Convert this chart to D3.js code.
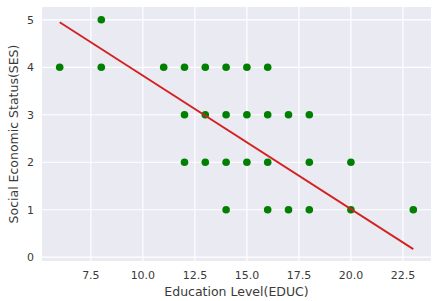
<!DOCTYPE html>
<html>
<head>
<meta charset="utf-8">
<script src="https://cdn.jsdelivr.net/npm/d3@7"></script>
<style>
	body { margin: 0; background: #fff; }
	text { font-family: "DejaVu Sans", sans-serif; fill: #3a3a3a; }
</style>
</head>
<body>
<svg></svg>
<script>
	// EDUC / SES pairs
	var educ = [8, 6, 8, 11, 12, 13, 14, 15, 16, 12, 13, 14, 15, 16, 17, 18,
		12, 13, 14, 15, 16, 18, 20, 14, 16, 17, 18, 20, 23];
	var ses = [5, 4, 4, 4, 4, 4, 4, 4, 4, 3, 3, 3, 3, 3, 3, 3,
		2, 2, 2, 2, 2, 2, 2, 1, 1, 1, 1, 1, 1];
	// fitted line end points
	var fitX = [6, 23];
	var fitY = [4.95, 0.17];
	var xTicks = [7.5, 10.0, 12.5, 15.0, 17.5, 20.0, 22.5];
	var yTicks = [0, 1, 2, 3, 4, 5];

	var width = 440, height = 301;
	var margins = { left: 42, right: 9, top: 7, bottom: 40 };

	var svg = d3.select("svg")
		.attr("width", width)
		.attr("height", height);

	var x = d3.scaleLinear()
		.domain([5.15, 23.85])
		.range([margins.left, width - margins.right]);
	var y = d3.scaleLinear()
		.domain([-0.08, 5.27])
		.range([height - margins.bottom, margins.top]);

	svg.append("rect")
		.attr("x", margins.left)
		.attr("y", margins.top)
		.attr("width", width - margins.left - margins.right)
		.attr("height", height - margins.top - margins.bottom)
		.attr("fill", "#eaeaf2");

	// grid
	svg.append("g").selectAll("line")
		.data(xTicks)
		.enter().append("line")
		.attr("x1", d => x(d)).attr("x2", d => x(d))
		.attr("y1", margins.top).attr("y2", height - margins.bottom)
		.attr("stroke", "#fff").attr("stroke-width", 1.2);
	svg.append("g").selectAll("line")
		.data(yTicks)
		.enter().append("line")
		.attr("y1", d => y(d)).attr("y2", d => y(d))
		.attr("x1", margins.left).attr("x2", width - margins.right)
		.attr("stroke", "#fff").attr("stroke-width", 1.2);

	// tick labels
	svg.append("g").selectAll("text")
		.data(xTicks)
		.enter().append("text")
		.attr("x", d => x(d))
		.attr("y", 279)
		.attr("text-anchor", "middle")
		.attr("font-size", "11px")
		.text(d => d.toFixed(1));
	svg.append("g").selectAll("text")
		.data(yTicks)
		.enter().append("text")
		.attr("x", 34)
		.attr("y", d => y(d) + 4)
		.attr("text-anchor", "end")
		.attr("font-size", "11px")
		.text(d => d);

	// points
	svg.append("g").selectAll("circle")
		.data(educ)
		.enter().append("circle")
		.attr("cx", d => x(d))
		.attr("cy", (d, i) => y(ses[i]))
		.attr("r", 3.8)
		.attr("fill", "#008000");

	// regression line
	svg.append("path")
		.datum(fitX)
		.attr("d", d3.line().x(d => x(d)).y((d, i) => y(fitY[i])))
		.attr("stroke", "#d42020")
		.attr("stroke-width", 1.8)
		.attr("fill", "none");

	svg.append("text")
		.attr("x", (margins.left + width - margins.right) / 2)
		.attr("y", 296)
		.attr("text-anchor", "middle")
		.attr("font-size", "12.5px")
		.text("Education Level(EDUC)");
	svg.append("text")
		.attr("transform", "rotate(270)")
		.attr("x", -(margins.top + height - margins.bottom) / 2)
		.attr("y", 18)
		.attr("text-anchor", "middle")
		.attr("font-size", "12.5px")
		.text("Social Economic Status(SES)");
</script>
</body>
</html>
